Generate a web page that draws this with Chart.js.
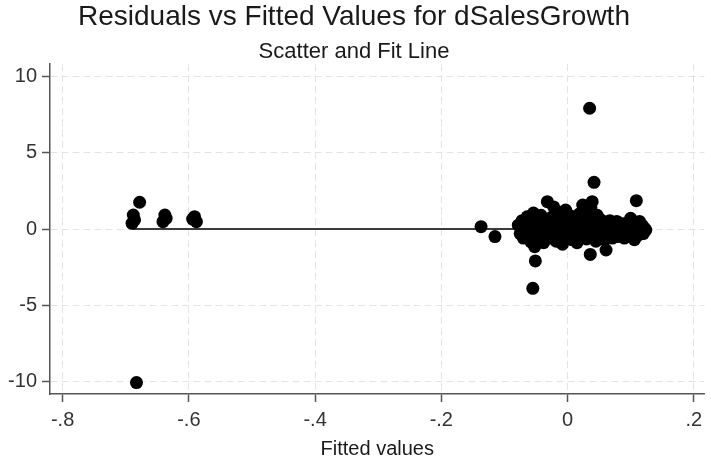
<!DOCTYPE html>
<html>
<head>
<meta charset="utf-8">
<script src="https://cdn.jsdelivr.net/npm/chart.js@4"></script>
<style>
  html, body { margin: 0; padding: 0; background: #ffffff; }
  #wrap { width: 711px; height: 459px; }
</style>
</head>
<body>
<div id="wrap"><canvas id="c" width="711" height="459"></canvas></div>
<script>
const chartTitle = "Residuals vs Fitted Values for dSalesGrowth";
const chartSubtitle = "Scatter and Fit Line";
const xAxisTitle = "Fitted values";

const xTicks = [-0.8, -0.6, -0.4, -0.2, 0, 0.2];
const xTickLabels = ["-.8", "-.6", "-.4", "-.2", "0", ".2"];
const yTicks = [-10, -5, 0, 5, 10];
const yTickLabels = ["-10", "-5", "0", "5", "10"];

const fittedValues = [
  -0.678, -0.688, -0.690, -0.686, -0.638, -0.641, -0.636, -0.591, -0.588, -0.594, -0.683,
  -0.137, -0.115,
  -0.078, -0.075, -0.072, -0.070,
  -0.066, -0.064, -0.062, -0.060, -0.058,
  -0.056, -0.054, -0.052, -0.050, -0.049, -0.052, -0.051, -0.055,
  -0.046, -0.044, -0.042, -0.040, -0.038,
  -0.036, -0.034, -0.032, -0.030, -0.028,
  -0.026, -0.024, -0.022, -0.020, -0.018, -0.016,
  -0.014, -0.012, -0.010, -0.008, -0.006,
  -0.004, -0.003, -0.001, 0.001, 0.003,
  0.005, 0.007, 0.009, 0.011, 0.013,
  0.015, 0.017, 0.019, 0.021, 0.023,
  0.024, 0.026, 0.028, 0.030, 0.032,
  0.034, 0.035, 0.036, 0.037, 0.039, 0.040, 0.042, 0.043,
  0.045, 0.047, 0.049, 0.051, 0.053,
  0.055, 0.057, 0.059, 0.061, 0.063,
  0.065, 0.067, 0.069, 0.071, 0.073,
  0.075, 0.078, 0.080, 0.082, 0.085,
  0.088, 0.090, 0.093, 0.095, 0.098,
  0.100, 0.102, 0.104, 0.106, 0.109, 0.110,
  0.112, 0.114, 0.116, 0.118, 0.120, 0.122, 0.124
];
const residuals = [
  1.76, 0.92, 0.37, 0.60, 0.92, 0.48, 0.70, 0.81, 0.48, 0.65, -10.10,
  0.15, -0.50,
  0.25, -0.30, 0.55, -0.60,
  0.10, 0.80, -0.40, 0.40, -0.85,
  0.20, 1.05, -0.20, 0.60, -0.70, -1.16, -2.10, -3.90,
  0.35, -0.45, 0.90, 0.05, -0.90,
  0.50, -0.25, 1.80, 0.15, -0.60,
  0.75, -0.10, 1.45, 0.30, -0.80, 0.55,
  -0.35, 1.10, 0.00, -1.00, 0.65,
  0.25, 1.25, -0.50, 0.45, -0.15,
  0.85, -0.70, 0.20, -0.30, 0.60,
  -0.90, 0.10, 1.00, -0.45, 0.35,
  1.58, -0.20, 0.70, -0.65, 1.20,
  0.05, 7.94, -1.67, 1.40, 1.80, -0.35, 3.07, 0.50,
  -0.80, 0.90, 0.15, -0.50, 0.60,
  -0.25, 0.40, -0.70, -1.38, 0.30,
  -0.40, 0.55, 0.05, -0.60, 0.25,
  -0.20, 0.50, -0.50, 0.15, -0.30,
  0.35, -0.60, 0.00, 0.40, -0.45,
  0.70, -0.10, 0.30, -0.70, 1.86, 0.20,
  -0.40, 0.50, -0.15, 0.25, -0.30, 0.05, -0.07
];

const fitX = [-0.690, 0.124];
const fitY = [0, 0];

const xMin = -0.82, xMax = 0.217;
const yMin = -10.85, yMax = 10.85;

const FONT = "'Liberation Sans', Arial, Helvetica, sans-serif";

const scatterData = fittedValues.map((x, i) => ({ x: x, y: residuals[i] }));
const fitData = fitX.map((x, i) => ({ x: x, y: fitY[i] }));

const gridOpts = {
  color: '#e4e4e4',
  lineWidth: 1,
  drawTicks: true,
  tickLength: 8,
  tickColor: '#555555',
  tickWidth: 1.5,
  tickBorderDash: []
};

new Chart(document.getElementById('c'), {
  data: {
    datasets: [
      {
        type: 'scatter',
        label: 'Residuals',
        data: scatterData,
        backgroundColor: '#000000',
        borderColor: '#000000',
        borderWidth: 0,
        pointRadius: 6.5,
        pointHoverRadius: 6.5,
        order: 0
      },
      {
        type: 'line',
        label: 'Fitted values',
        data: fitData,
        borderColor: '#3c3c3c',
        borderWidth: 2,
        pointRadius: 0,
        fill: false,
        order: 1
      }
    ]
  },
  options: {
    responsive: false,
    animation: false,
    devicePixelRatio: 1,
    layout: { padding: { left: 0, right: 3, top: 0, bottom: 0 } },
    plugins: {
      legend: { display: false },
      tooltip: { enabled: false },
      title: {
        display: true,
        text: chartTitle,
        color: '#1a1a1a',
        font: { family: FONT, size: 28, weight: 'normal', lineHeight: 1.0 },
        padding: { top: 3, bottom: 0 }
      },
      subtitle: {
        display: true,
        text: chartSubtitle,
        color: '#1a1a1a',
        font: { family: FONT, size: 22, weight: 'normal', lineHeight: 1.0 },
        padding: { top: 10, bottom: 1 }
      }
    },
    scales: {
      x: {
        type: 'linear',
        min: xMin,
        max: xMax,
        afterBuildTicks: (scale) => { scale.ticks = xTicks.map(v => ({ value: v })); },
        afterFit: (scale) => { scale.height = 65; },
        ticks: {
          color: '#333333',
          font: { family: FONT, size: 20 },
          padding: 6,
          maxRotation: 0,
          callback: (value) => {
            const i = xTicks.findIndex(t => Math.abs(t - value) < 1e-9);
            return i >= 0 ? xTickLabels[i] : '';
          }
        },
        grid: gridOpts,
        border: { display: true, color: '#555555', width: 1.5, dash: [7, 4] },
        title: {
          display: true,
          text: xAxisTitle,
          color: '#1a1a1a',
          font: { family: FONT, size: 20, lineHeight: 1.0 },
          padding: { top: 0, bottom: 0 }
        }
      },
      y: {
        type: 'linear',
        min: yMin,
        max: yMax,
        afterBuildTicks: (scale) => { scale.ticks = yTicks.map(v => ({ value: v })); },
        afterFit: (scale) => { scale.width = 50; },
        ticks: {
          color: '#333333',
          font: { family: FONT, size: 20 },
          padding: 5,
          callback: (value) => {
            const i = yTicks.findIndex(t => Math.abs(t - value) < 1e-9);
            return i >= 0 ? yTickLabels[i] : '';
          }
        },
        grid: gridOpts,
        border: { display: true, color: '#555555', width: 1.5, dash: [7, 4] }
      }
    }
  }
});
</script>
</body>
</html>
